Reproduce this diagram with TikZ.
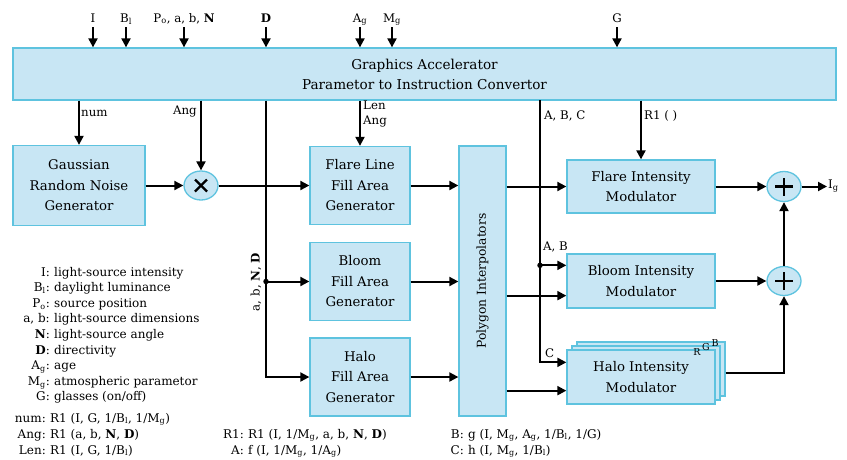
\documentclass[tikz,border=0pt]{standalone}
\usepackage{fontspec}
\setmainfont{DejaVu Serif}
\usetikzlibrary{arrows.meta, shapes.geometric, calc}
\definecolor{blockfill}{HTML}{C8E6F4}
\definecolor{blockline}{HTML}{5EC3DF}
\newcommand{\Mg}{M\textsubscript{g}}
\newcommand{\Ag}{A\textsubscript{g}}
\newcommand{\Bl}{B\textsubscript{l}}
\newcommand{\Po}{P\textsubscript{o}}
\newcommand{\Ig}{I\textsubscript{g}}

\begin{document}
\begin{tikzpicture}[x=1pt, y=-1pt,
    block/.style={draw=blockline, fill=blockfill, line width=1.3pt, align=center,
                  font=\fontsize{13.3}{20.5}\selectfont, inner sep=0pt},
    opnode/.style={ellipse, draw=blockline, fill=blockfill, line width=1.3pt,
                   minimum width=34pt, minimum height=29pt, inner sep=0pt},
    opsign/.style={line width=2.4pt},
    conn/.style={-{Triangle[length=9pt, width=9pt]}, line width=2pt},
    sig/.style={font=\fontsize{11.8}{15}\selectfont, inner sep=1pt, align=left},
    keytext/.style={font=\fontsize{12}{13}\selectfont, inner sep=0pt},
    rgblab/.style={font=\fontsize{9.5}{9.5}\selectfont, inner sep=0pt},
    junction/.style={circle, fill=black, inner sep=0pt, minimum size=5.5pt}
  ]
  \useasboundingbox (0,0) rectangle (847,459);

  % ---- converter and its inputs ----
  \node[block, minimum width=823pt, minimum height=52pt, font=\fontsize{13.6}{20}\selectfont]
    (acc) at (424.5,74) {Graphics Accelerator\\Parametor to Instruction Convertor};
  \foreach \n/\x/\t in {inI/93/I, inB/126/\Bl, inP/184/{\Po, a, b, \textbf{N}},
                        inD/266/\textbf{D}, inA/360/\Ag, inM/392/\Mg, inG/617/G} {
    \node[sig, anchor=base] (\n) at (\x,22) {\t};
    \draw[conn] ([yshift=-5pt]\n.base) -- (\n.base |- acc.north);
  }

  % ---- left column ----
  \node[block, minimum width=132pt, minimum height=80pt] (gauss) at (79,185.5)
    {Gaussian\\Random Noise\\Generator};
  \node[opnode] (mult) at (201,185.5) {};
  \draw[opsign] ([shift={(-6,-6)}]mult.center) -- ([shift={(6,6)}]mult.center);
  \draw[opsign] ([shift={(-6,6)}]mult.center) -- ([shift={(6,-6)}]mult.center);

  \draw[conn] (gauss.north |- acc.south) -- (gauss.north);
  \node[sig, anchor=west] (lnum) at (80,113) {num};
  \draw[conn] (mult.north |- acc.south) -- (mult.north);
  \node[sig, anchor=east] (lang) at (198,112) {Ang};
  \draw[conn] (gauss.east) -- (mult.west);

  % ---- fill area generators ----
  \node[block, minimum width=100pt, minimum height=78pt] (flare) at (360,185.5)
    {Flare Line\\Fill Area\\Generator};
  \node[block, minimum width=100pt, minimum height=78pt] (bloom) at (360,281.5)
    {Bloom\\Fill Area\\Generator};
  \node[block, minimum width=100pt, minimum height=78pt] (halo) at (360,377)
    {Halo\\Fill Area\\Generator};
  \draw[conn] (mult.east) -- (flare.west);

  % D bus down the left side of the generators
  \draw[conn] (inD |- acc.south) |- (halo.west);
  \draw[conn] (inD |- bloom.west) -- (bloom.west);
  \node[junction] (jD) at (inD |- bloom.west) {};
  \node[sig, rotate=90] (lbus) at (256,282) {a, b, \textbf{N}, \textbf{D}};

  \draw[conn] (flare.north |- acc.south) -- (flare.north);
  \node[sig, anchor=north west] (llen) at (362,100) {Len\\Ang};

  % ---- polygon interpolators ----
  \node[block, minimum width=47pt, minimum height=270pt] (poly) at (482.5,281) {};
  \node[sig, rotate=90, font=\fontsize{12.3}{13}\selectfont] (polytxt) at (poly.center)
    {Polygon Interpolators};
  \foreach \b in {flare, bloom, halo}
    \draw[conn] (\b.east) -- (\b.east -| poly.west);

  % ---- intensity modulators ----
  \node[block, minimum width=148pt, minimum height=53pt] (flmod) at (641,186.5)
    {Flare Intensity\\Modulator};
  \node[block, minimum width=148pt, minimum height=54pt] (blmod) at (641,281)
    {Bloom Intensity\\Modulator};
  \node[block, minimum width=148pt, minimum height=54pt] (hamodB) at (651,369) {};
  \node[block, minimum width=148pt, minimum height=54pt] (hamodG) at (646,373) {};
  \node[block, minimum width=148pt, minimum height=54pt] (hamod) at (641,377)
    {Halo Intensity\\Modulator};
  \node[rgblab] (labR) at (697,352) {R};
  \node[rgblab] (labG) at (706,347) {G};
  \node[rgblab] (labB) at (715,343) {B};

  \coordinate (blAB) at ([yshift=-12pt]blmod.north west);
  \coordinate (blin) at ([yshift=13pt]blmod.south west);
  \coordinate (haC) at ([yshift=-13pt]hamod.north west);
  \coordinate (hain) at ([yshift=14pt]hamod.south west);

  \draw[conn] (poly.east |- flmod.west) -- (flmod.west);
  \draw[conn] (poly.east |- blin) -- (blin);
  \draw[conn] (poly.east |- hain) -- (hain);

  % A, B, C bus
  \coordinate (abctop) at (540,100);
  \draw[conn] (abctop) |- (haC);
  \draw[conn] (abctop |- blAB) -- (blAB);
  \node[junction] (jAB) at (abctop |- blAB) {};
  \node[sig, anchor=west] (labc) at (543,116) {A, B, C};
  \node[sig, anchor=west] (lab) at (542,247) {A, B};
  \node[sig, anchor=west] (lc) at (544,353) {C};

  \draw[conn] (flmod.north |- acc.south) -- (flmod.north);
  \node[sig, anchor=west] (lr1) at (643,116) {R1 ( )};

  % ---- summing ----
  \node[opnode, minimum height=30pt] (sum1) at (784,186.5) {};
  \node[opnode, minimum height=29pt] (sum2) at (784,281) {};
  \foreach \s in {sum1, sum2} {
    \draw[opsign] ([xshift=-9pt]\s.center) -- ([xshift=9pt]\s.center);
    \draw[opsign] ([yshift=-9pt]\s.center) -- ([yshift=9pt]\s.center);
  }
  \node[sig, anchor=west] (ig) at (827,186.5) {\Ig};
  \draw[conn] (flmod.east) -- (sum1.west);
  \draw[conn] (sum1.east) -- (ig.west);
  \draw[conn] (sum2.north) -- (sum1.south);
  \draw[conn] (blmod.east) -- (sum2.west);
  \draw[conn] (hamodB.east |- hamodG.east) -| (sum2.south);

  % ---- legend ----
  \foreach \k/\d [count=\i] in {I/light-source intensity, \Bl/daylight luminance,
      \Po/source position, {a, b}/light-source dimensions,
      \textbf{N}/light-source angle, \textbf{D}/directivity, \Ag/age,
      \Mg/atmospheric parametor, G/{glasses (on/off)}} {
    \node[keytext, anchor=base east] (key\i) at (50,276+15.6*\i-15.6) {\k:};
    \node[keytext, anchor=base west] (val\i) at ([xshift=4pt]key\i.base east) {\d};
  }
  \foreach \k/\d [count=\i] in {num/{R1 (I, G, 1/\Bl, 1/\Mg)},
      Ang/{R1 (a, b, \textbf{N}, \textbf{D})}, Len/{R1 (I, G, 1/\Bl)}} {
    \node[keytext, anchor=base east] (fn\i) at (46,422+16*\i-16) {\k:};
    \node[keytext, anchor=base west] (fv\i) at ([xshift=4pt]fn\i.base east) {\d};
  }
  \foreach \k/\d [count=\i] in {R1/{R1 (I, 1/\Mg, a, b, \textbf{N}, \textbf{D})},
      A/{f (I, 1/\Mg, 1/\Ag)}} {
    \node[keytext, anchor=base east] (gn\i) at (244,438+16*\i-16) {\k:};
    \node[keytext, anchor=base west] (gv\i) at ([xshift=4pt]gn\i.base east) {\d};
  }
  \foreach \k/\d [count=\i] in {B/{g (I, \Mg, \Ag, 1/\Bl, 1/G)},
      C/{h (I, \Mg, 1/\Bl)}} {
    \node[keytext, anchor=base east] (hn\i) at (464,438+16*\i-16) {\k:};
    \node[keytext, anchor=base west] (hv\i) at ([xshift=4pt]hn\i.base east) {\d};
  }
\end{tikzpicture}
\end{document}
